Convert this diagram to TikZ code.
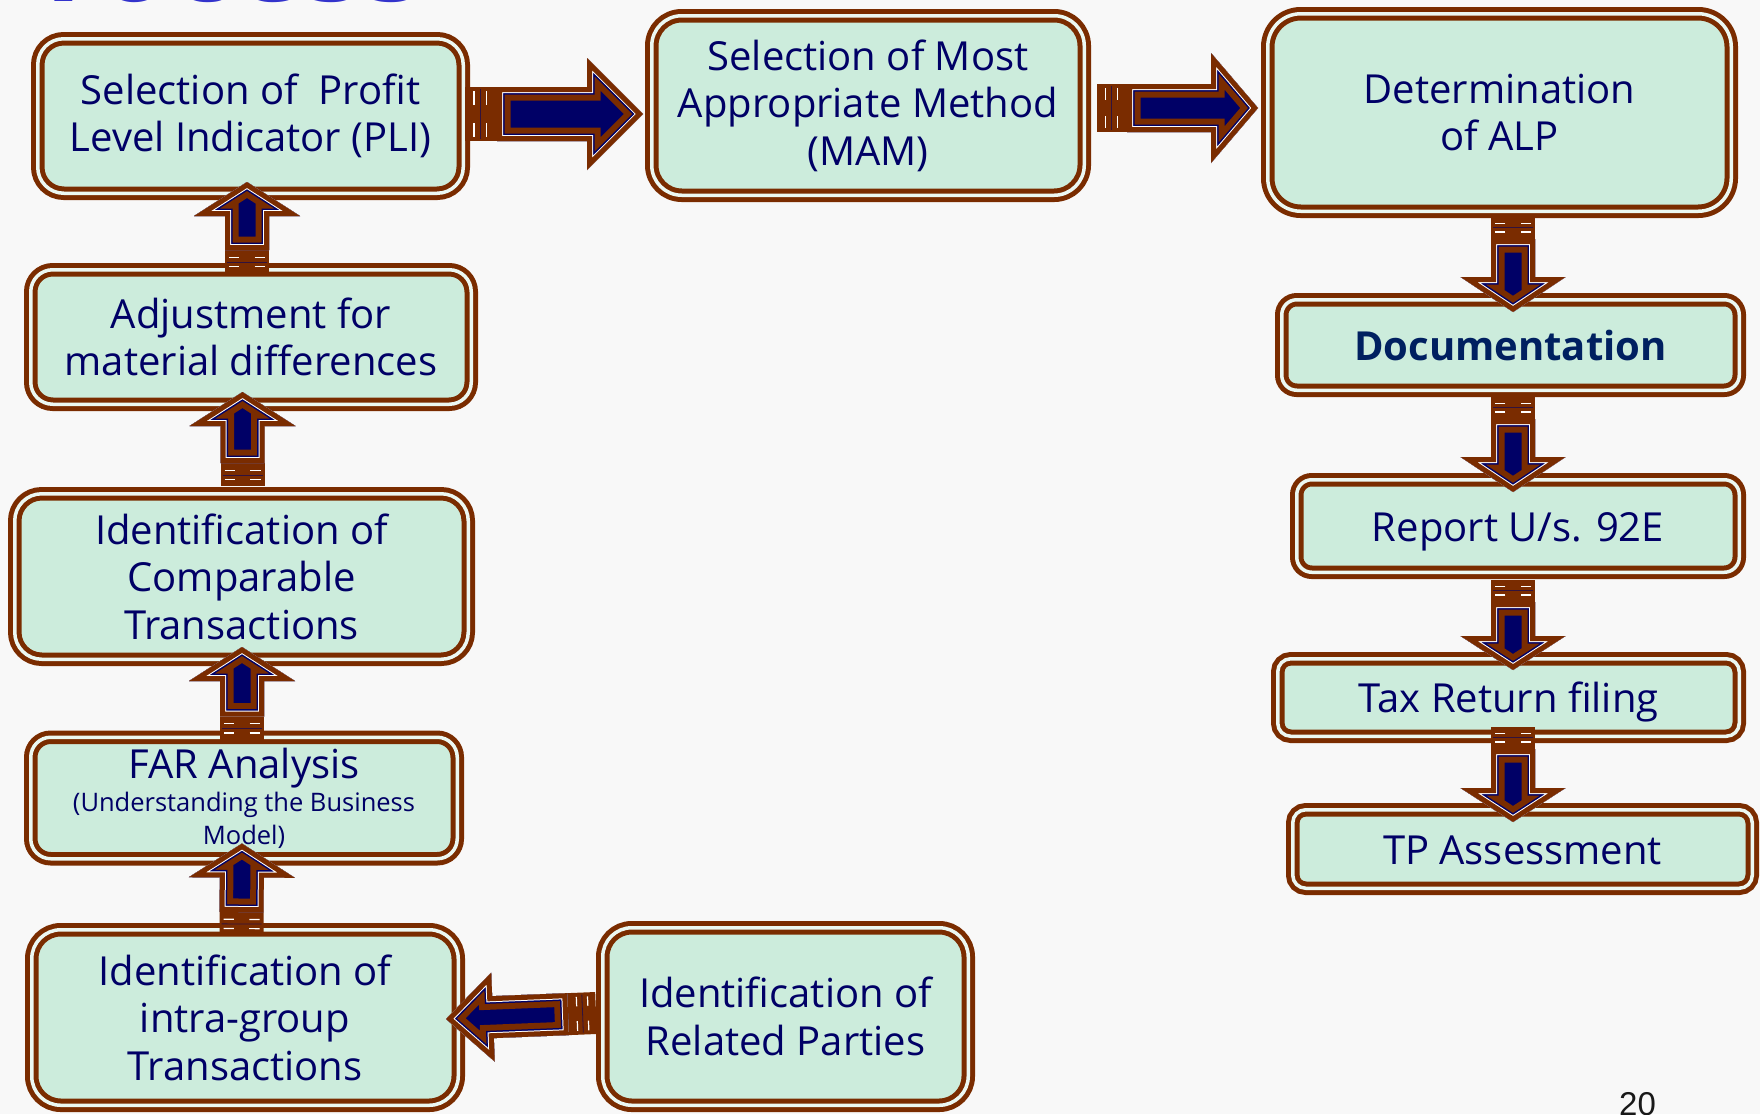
\documentclass[tikz,border=0pt]{standalone}
\usepackage{fontspec}
\setmainfont{Open Sans}
\newfontfamily\pagefont{Liberation Sans}
\usetikzlibrary{calc}

\definecolor{tpbg}{RGB}{248,248,248}
\definecolor{tpbrown}{RGB}{122,44,0}
\definecolor{tpmint}{RGB}{204,236,220}
\definecolor{tpgap}{RGB}{236,248,242}
\definecolor{tpnavy}{RGB}{0,0,102}
\definecolor{tpdoc}{RGB}{0,32,96}
\definecolor{tptitle}{RGB}{51,51,204}

\tikzset{
  tpbox/.style={draw=tpbrown, line width=5pt, double=tpgap, double distance=3.5pt,
    fill=tpmint, inner sep=0pt, outer sep=6.75pt, align=center, text=tpnavy,
    font=\fontsize{40}{47.5}\selectfont},
  oneline/.style={text height=30pt, text depth=0pt}
}

% outline of the arrow body, tail at u=\tpt, tip at u=\tpL
\newcommand\tpbodypath[1]{\path[#1] (\tpt,-\tps) -- (\tpL-\tphl,-\tps) -- (\tpL-\tphl,-\tph)
  -- (\tpL,0) -- (\tpL-\tphl,\tph) -- (\tpL-\tphl,\tps) -- (\tpt,\tps) -- cycle;}

% striped block arrow: #1 tail, #2 tip, #3 shaft half width, #4 head half width,
% #5 head length, #6 length of the striped tail
\newcommand\tparrow[6]{%
  \path let \p1=#1, \p2=#2 in \pgfextra{%
    \pgfmathsetmacro\tmpL{veclen((\x2)-(\x1),(\y2)-(\y1))}\global\let\tpL\tmpL
    \pgfmathsetmacro\tmpA{atan2((\y2)-(\y1),(\x2)-(\x1))}\global\let\tpA\tmpA};
  \def\tps{#3}\def\tph{#4}\def\tphl{#5}\def\tpt{#6}%
  \begin{scope}[shift={#1}, rotate=\tpA, line join=miter]
    \fill[tpbrown] (0,-\tps) rectangle (\tpt+3,\tps);
    \draw[white, line width=1.2pt]
      (0.28*\tpt,-\tps+4) -- (0.28*\tpt,-0.35*\tps) (0.28*\tpt,0.35*\tps) -- (0.28*\tpt,\tps-4)
      (0.68*\tpt,-\tps+4) -- (0.68*\tpt,-0.35*\tps) (0.68*\tpt,0.35*\tps) -- (0.68*\tpt,\tps-4);
    \draw[tpnavy!60!tpbrown, line width=0.8pt] (0.48*\tpt,-\tps+2) -- (0.48*\tpt,\tps-2);
    \tpbodypath{fill=tpnavy}
    \begin{scope}
      \tpbodypath{clip}
      \tpbodypath{draw=tpbrown, line width=27pt}
      \tpbodypath{draw=tpnavy, line width=15pt}
      \tpbodypath{draw=white, line width=12pt}
      \tpbodypath{draw=tpbrown, line width=10pt}
    \end{scope}
  \end{scope}}

\begin{document}
\begin{tikzpicture}[x=1pt, y=-1pt]
\useasboundingbox (0,0) rectangle (1760,1114);
\fill[tpbg] (0,0) rectangle (1760,1114);

% heading, cut by the top edge
\begin{scope}
  \clip (0,0) rectangle (1760,1114);
  \node[anchor=base west, inner sep=0pt, text=tptitle,
        font=\fontsize{120}{120}\selectfont\bfseries] (title) at (-30,1.5) {Process};
\end{scope}

% left column
\node[tpbox, minimum width=425.5pt, minimum height=154.5pt, rounded corners=26pt]
  (pli) at (250.5,116) {Selection of\ \ Profit\\Level Indicator (PLI)};
\node[tpbox, minimum width=440.5pt, minimum height=134.5pt, rounded corners=22pt]
  (adj) at (251,337) {Adjustment for\\material differences};
\node[tpbox, minimum width=453.5pt, minimum height=165.5pt, rounded corners=27pt]
  (comp) at (241.5,576.5) {Identification of\\Comparable\\Transactions};
\node[tpbox, minimum width=426.5pt, minimum height=121.5pt, rounded corners=20pt,
      font=\fontsize{25.5}{33}\selectfont]
  (far) at (244,798) {{\fontsize{40}{47.5}\selectfont FAR Analysis}\\(Understanding the Business\\Model)};
\node[tpbox, minimum width=426.5pt, minimum height=175.5pt, rounded corners=29pt]
  (intra) at (245,1017.5) {Identification of\\intra-group\\Transactions};
\node[tpbox, minimum width=365.5pt, minimum height=177.5pt, rounded corners=29pt]
  (rel) at (785.5,1016.5) {Identification of\\Related Parties};

% top row
\node[tpbox, minimum width=432.5pt, minimum height=179.5pt, rounded corners=30pt]
  (mam) at (868,105.5) {Selection of Most\\Appropriate Method\\(MAM)};
\node[tpbox, minimum width=463.5pt, minimum height=197.5pt, rounded corners=33pt]
  (alp) at (1499.5,112.5) {Determination\\of ALP};

% right column
\node[tpbox, oneline, minimum width=457.5pt, minimum height=90.5pt, rounded corners=15pt,
      text=tpdoc, font=\fontsize{40}{47.5}\selectfont\bfseries]
  (doc) at (1510.5,345) {Documentation};
\node[tpbox, oneline, minimum width=442.5pt, minimum height=92.5pt, rounded corners=15pt]
  (rep) at (1518,526) {Report U/s. 92E};
\node[tpbox, oneline, minimum width=461.5pt, minimum height=77.5pt, rounded corners=13pt]
  (tax) at (1508.5,697.5) {Tax Return filing};
\node[tpbox, oneline, minimum width=459.5pt, minimum height=78.5pt, rounded corners=13pt]
  (tp) at (1522.5,849) {TP Assessment};

% connectors
\tparrow{($(pli.east)+(-5,-2)$)}{($(mam.west)+(-2,8.5)$)}{27}{56}{56}{32}
\tparrow{($(mam.east)+(6,2.5)$)}{($(alp.west)+(-3,-4.5)$)}{24}{55}{47}{30}
\tparrow{($(alp.south)+(13.5,-1)$)}{($(doc.north)+(2.5,19)$)}{22}{52.5}{35}{22}
\tparrow{($(doc.south)+(2.5,0)$)}{($(rep.north)+(-5,19)$)}{22}{52.5}{35}{22}
\tparrow{($(rep.south)+(-5,1)$)}{($(tax.north)+(4.5,18)$)}{22}{52.5}{34}{22}
\tparrow{($(tax.south)+(4.5,-16)$)}{($(tp.north)+(-9.5,19)$)}{22}{52.5}{34}{22}
\tparrow{($(rel.west)+(0,-3.5)$)}{($(intra.east)+(-19,1.5)$)}{21}{44.5}{47}{28}
\tparrow{($(intra.north)+(-3.5,12)$)}{($(far.south)+(-2,-22)$)}{22}{53}{34}{23}
\tparrow{($(far.north)+(-2,9)$)}{($(comp.south)+(0.5,-19)$)}{22}{53}{34}{23}
\tparrow{($(comp.north)+(1,-1)$)}{($(adj.south)+(-8.5,-19)$)}{22}{53}{34}{23}
\tparrow{($(adj.north)+(-4,10)$)}{($(pli.south)+(-3.5,-18)$)}{22}{53}{34}{23}

% slide number
\node[anchor=base west, inner sep=0pt, text=black!90, font=\pagefont\fontsize{33}{33}\selectfont]
  (pageno) at (1619,1115) {20};
\end{tikzpicture}
\end{document}
